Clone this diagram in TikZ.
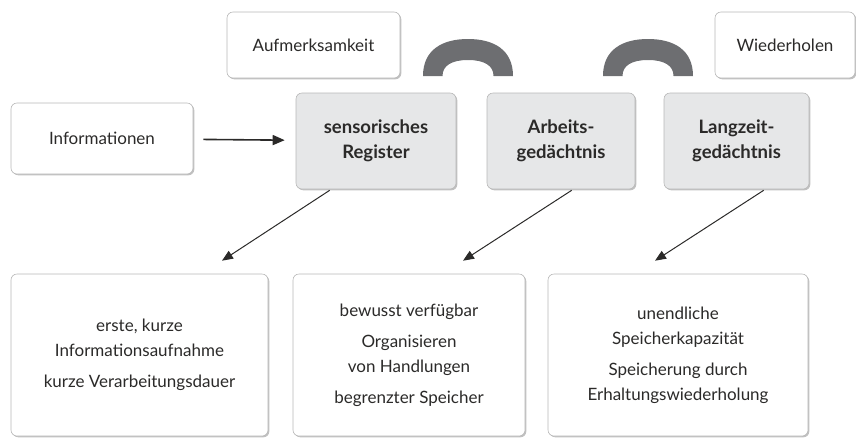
\documentclass[tikz,border=0pt]{standalone}
\usepackage{fontspec}
\setmainfont{Lato}
\usetikzlibrary{shadows,arrows.meta,calc}
\definecolor{txt}{HTML}{2B2A29}
\definecolor{boxgray}{HTML}{E6E7E8}
\definecolor{archcol}{HTML}{6D6E71}
\begin{document}
\begin{tikzpicture}[x=1pt,y=-1pt,
  base/.style={rounded corners=6pt, draw=black!28, line width=0.6pt, align=center,
    text=txt, inner sep=0pt,
    font=\fontsize{17}{25}\selectfont,
    drop shadow={shadow xshift=1.3pt, shadow yshift=-1.3pt, opacity=0.35, fill=black!70}},
  wbox/.style={base, fill=white},
  gbox/.style={base, fill=boxgray, font=\fontsize{18.5}{25}\selectfont\bfseries},
  conn/.style={line width=1pt, draw=txt, -{Triangle[length=11pt,width=9pt]}},
  hconn/.style={line width=1.6pt, draw=txt, -{Triangle[length=12pt,width=10pt]}}
]
\useasboundingbox (0,0) rectangle (856,437);

% top label boxes
\node[wbox, minimum width=173pt, minimum height=66pt] (auf) at (313.5,45) {Aufmerksamkeit};
\node[wbox, minimum width=140pt, minimum height=66pt] (wie) at (785,45) {Wiederholen};
\node[wbox, minimum width=182pt, minimum height=71pt] (info) at (102,138.5) {Informationen};

% memory stores
\node[gbox, minimum width=160pt, minimum height=96pt] (sens) at (376,141) {sensorisches\\Register};
\node[gbox, minimum width=148pt, minimum height=96pt] (arb) at (561,141) {Arbeits-\\gedächtnis};
\node[gbox, minimum width=145pt, minimum height=96pt] (lang) at (736.5,141) {Langzeit-\\gedächtnis};

% arches
\foreach \cx in {468,648} {
  \fill[archcol, shift={(\cx,0)}]
    (-45,76) .. controls (-45,50) and (-26,39) .. (0,39)
             .. controls (26,39) and (45,50) .. (45,76)
    -- (25.5,76) .. controls (25.5,66) and (17,60) .. (0,60)
             .. controls (-17,60) and (-25.5,66) .. (-25.5,76) -- cycle;
}

% description boxes
\node[wbox, minimum width=257pt, minimum height=162pt] (b1) at (139.5,355)
  {erste, kurze\\Informationsaufnahme\\[6pt]kurze Verarbeitungsdauer};
\node[wbox, minimum width=232pt, minimum height=162pt] (b2) at (409,355)
  {bewusst verfügbar\\[6pt]Organisieren\\von Handlungen\\[6pt]begrenzter Speicher};
\node[wbox, minimum width=260pt, minimum height=162pt] (b3) at (678,355)
  {unendliche\\Speicherkapazität\\[6pt]Speicherung durch\\Erhaltungswiederholung};

% connectors
\draw[hconn, shorten <=10pt, shorten >=11pt] (info) -- (sens);
\draw[conn] ($(sens.south west)+(34,1)$) -- ($(b1.north)+(82.5,-13)$);
\draw[conn] ($(arb.south west)+(85,1)$) -- ($(b2.north)+(54,-13)$);
\draw[conn] ($(lang.south west)+(100,1)$) -- ($(b3.north)+(-23,-13)$);
\end{tikzpicture}
\end{document}
